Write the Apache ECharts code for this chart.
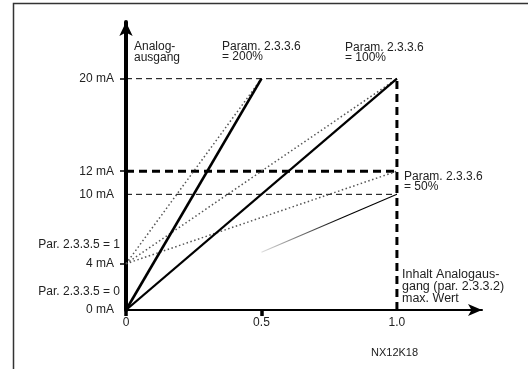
<!DOCTYPE html>
<html lang="de">
<head>
    <meta charset="utf-8">
    <title>Analogausgang</title>
    <script src="https://cdn.jsdelivr.net/npm/echarts@6/dist/echarts.min.js"></script>
    <style>
        html, body {margin: 0; padding: 0; background: #fff;}
        #main {width: 528px; height: 369px;}
    </style>
</head>
<body>
<div id="main"></div>
<script type="text/javascript">

    // Achsen
    var xTicks = [0, 0.5, 1.0];
    var xTickLabels = ['0', '0.5', '1.0'];
    var yTicks = [0, 4, 10, 12, 20];
    var yTickLabels = ['0 mA', '4 mA', '10 mA', '12 mA', '20 mA'];

    // Kennlinien ohne Offset (Par. 2.3.3.5 = 0)
    var gain200 = [[0, 0], [0.5, 20]];
    var gain100 = [[0, 0], [1.0, 20]];
    var gain50 = [[0.5, 5], [1.0, 10]];

    // Kennlinien mit Offset 4 mA (Par. 2.3.3.5 = 1)
    var offs200 = [[0, 4], [0.5, 20]];
    var offs100 = [[0, 4], [1.0, 20]];
    var offs50 = [[0, 4], [1.0, 12]];

    // Hilfslinien
    var line20 = [[0, 20], [1.0, 20]];
    var line12 = [[0, 12], [1.0, 12]];
    var line10 = [[0, 10], [1.0, 10]];
    var lineMax = [[1.0, 0], [1.0, 20]];

    var FONT = '"Liberation Sans", Arial, sans-serif';

    function lineSeries(data, style) {
        return {
            type: 'line',
            data: data,
            symbol: 'none',
            silent: true,
            animation: false,
            lineStyle: style
        };
    }

    var dotted = {color: '#555', width: 1.5, type: [1.5, 2.5]};

    var myChart = echarts.init(document.getElementById('main'));
    var option = {
        animation: false,
        grid: {left: 126, right: 46, top: 22, bottom: 59},
        xAxis: {
            type: 'value',
            min: 0,
            max: 1.314,
            splitLine: {show: false},
            axisLine: {
                show: true,
                symbol: ['none', 'arrow'],
                symbolSize: [9, 14],
                lineStyle: {color: '#000', width: 2}
            },
            axisTick: {
                show: true,
                customValues: [0, 0.5],
                length: 6,
                lineStyle: {color: '#000', width: 3.5}
            },
            axisLabel: {
                customValues: xTicks,
                formatter: function (v) {
                    return xTickLabels[xTicks.indexOf(v)];
                },
                margin: 7,
                color: '#222',
                fontSize: 12,
                fontFamily: FONT
            }
        },
        yAxis: {
            type: 'value',
            min: 0,
            max: 24.9,
            splitLine: {show: false},
            axisLine: {
                show: true,
                symbol: ['none', 'arrow'],
                symbolSize: [10, 14],
                lineStyle: {color: '#000', width: 4}
            },
            axisTick: {
                show: true,
                customValues: [4, 12, 20],
                length: 6,
                lineStyle: {color: '#000', width: 1.5}
            },
            axisLabel: {
                customValues: yTicks,
                formatter: function (v) {
                    return yTickLabels[yTicks.indexOf(v)];
                },
                margin: 12,
                color: '#222',
                fontSize: 12,
                fontFamily: FONT
            }
        },
        series: [
            lineSeries(line20, {color: '#000', width: 1, type: [6, 4]}),
            lineSeries(line10, {color: '#000', width: 1, type: [6, 4]}),
            lineSeries(line12, {color: '#000', width: 3, type: [8, 5]}),
            lineSeries(lineMax, {color: '#000', width: 3, type: [8, 5]}),
            lineSeries(offs200, dotted),
            lineSeries(offs100, dotted),
            lineSeries(offs50, dotted),
            lineSeries(gain200, {color: '#000', width: 2.6}),
            lineSeries(gain100, {color: '#000', width: 2.3}),
            lineSeries(gain50, {
                width: 1.1,
                color: {
                    type: 'linear', x: 0, y: 0, x2: 1, y2: 0,
                    colorStops: [{offset: 0, color: '#e6e6e6'}, {offset: 0.6, color: '#000'}, {offset: 1, color: '#000'}]
                }
            })
        ],
        graphic: [
            // Rahmen
            {type: 'polyline', silent: true, shape: {points: [[13.5, 369], [13.5, 3.5], [528, 3.5]]},
                style: {stroke: '#333', lineWidth: 1.5, fill: null}},
            {type: 'text', left: 134, top: 41, silent: true,
                style: {text: 'Analog-\nausgang', font: '12px ' + FONT, fill: '#222', lineHeight: 11}},
            {type: 'text', left: 222, top: 41, silent: true,
                style: {text: 'Param. 2.3.3.6\n= 200%', font: '12px ' + FONT, fill: '#222', lineHeight: 10}},
            {type: 'text', left: 345, top: 42, silent: true,
                style: {text: 'Param. 2.3.3.6\n= 100%', font: '12px ' + FONT, fill: '#222', lineHeight: 10}},
            {type: 'text', left: 404, top: 171, silent: true,
                style: {text: 'Param. 2.3.3.6\n= 50%', font: '12px ' + FONT, fill: '#222', lineHeight: 10}},
            {type: 'text', left: 402, top: 268, silent: true,
                style: {text: 'Inhalt Analogaus-\ngang (par. 2.3.3.2)\nmax. Wert', font: '12.5px ' + FONT, fill: '#222', lineHeight: 12}},
            {type: 'text', right: 408, top: 239, silent: true,
                style: {text: 'Par. 2.3.3.5 = 1', font: '12px ' + FONT, fill: '#222', align: 'right'}},
            {type: 'text', right: 408, top: 286, silent: true,
                style: {text: 'Par. 2.3.3.5 = 0', font: '12px ' + FONT, fill: '#222', align: 'right'}},
            {type: 'text', left: 371, top: 347, silent: true,
                style: {text: 'NX12K18', font: '11px ' + FONT, fill: '#222'}}
        ]
    };
    myChart.setOption(option);

</script>
</body>
</html>
